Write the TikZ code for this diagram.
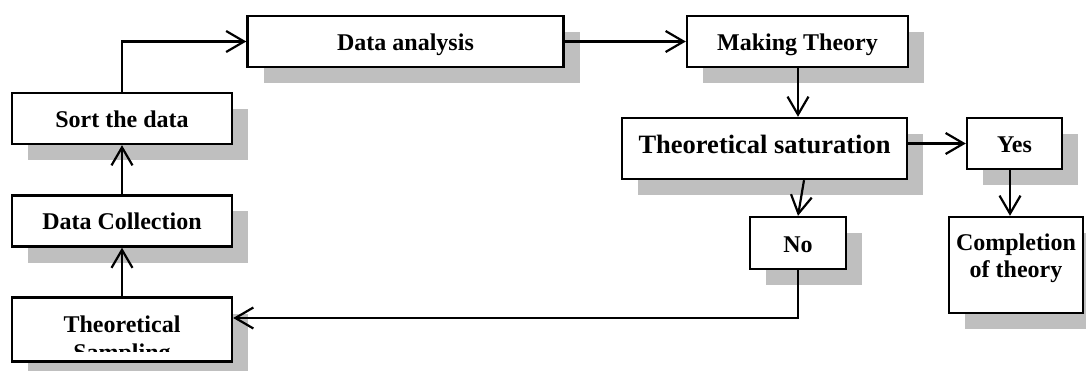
\documentclass[tikz,border=0pt]{standalone}
\usepackage{fontspec}
\setmainfont{Liberation Serif}
\usetikzlibrary{arrows.meta,shadows,calc}
\definecolor{shadowgray}{HTML}{BFBFBF}
\tikzset{
  box/.style={draw=black, line width=2.4pt, fill=white, inner sep=0pt,
    drop shadow={shadow xshift=16pt, shadow yshift=-16pt, fill=shadowgray, opacity=1},
    font=\bfseries\fontsize{24}{27}\selectfont, text height=21pt, text depth=3pt},
  txt/.style={inner sep=0pt, font=\bfseries\fontsize{24}{27}\selectfont},
  arr/.style={line width=2.2pt, -{Straight Barb[length=18pt, width=21pt, line width=2.2pt]}},
  conn/.style={line width=2.2pt}
}
\begin{document}
\begin{tikzpicture}[x=1pt, y=-1pt]
\useasboundingbox (0,0) rectangle (1086,371);
% boxes
\node[box, minimum width=220pt, minimum height=51pt] (sort) at (122,118.5) {Sort the data};
\node[box, minimum width=220pt, minimum height=51pt] (coll) at (122,221) {Data Collection};
\node[box, minimum width=220pt, minimum height=64pt] (samp) at (122,329.5) {};
\begin{scope}
  \clip (14,299) rectangle (230,351);
  \node[txt, anchor=base] (samp1) at (122,332) {Theoretical};
  \node[txt, anchor=base] (samp2) at (122,360) {Sampling};
\end{scope}
\node[box, minimum width=316pt, minimum height=51pt] (anal) at (405.5,41.5) {Data analysis};
\node[box, minimum width=221pt, minimum height=51pt] (make) at (797.5,41.5) {Making Theory};
\node[box, minimum width=285pt, minimum height=61pt,
  font=\bfseries\fontsize{26.5}{30}\selectfont, text height=19pt, text depth=8pt] (sat) at (764.5,148.5) {Theoretical saturation};
\node[box, minimum width=95pt, minimum height=51pt] (yes) at (1014.5,143.5) {Yes};
\node[box, minimum width=96pt, minimum height=52pt] (no) at (798,243) {No};
\node[box, minimum width=134pt, minimum height=96pt] (comp) at (1016,265) {};
\node[txt, align=center, anchor=base] (comp1) at (1016,251) {Completion};
\node[txt, align=center, anchor=base] (comp2) at (1016,277) {of theory};
% connectors
\draw[arr] (samp.north) -- (coll.south);
\draw[arr] (coll.north) -- (sort.south);
\draw[arr] (sort.north) |- (anal.west);
\draw[arr] (anal.east) -- (make.west);
\coordinate (mk) at ($(make.south)+(0.5,0)$);
\draw[arr] (mk) -- (mk |- sat.north);
\coordinate (satout) at ($(sat.south)+(39.5,0)$);
\draw[arr] (satout) -- (no.north);
\coordinate (satr) at ($(sat.east)+(0,-5)$);
\draw[arr] (satr) -- (satr -| yes.west);
\coordinate (yb) at ($(yes.south)+(-4.5,0)$);
\draw[arr] (yb) -- (yb |- comp.north);
\coordinate (sampin) at ($(samp.east)+(0,-11.5)$);
\draw[arr] (no.south) |- (sampin);
\end{tikzpicture}
\end{document}
